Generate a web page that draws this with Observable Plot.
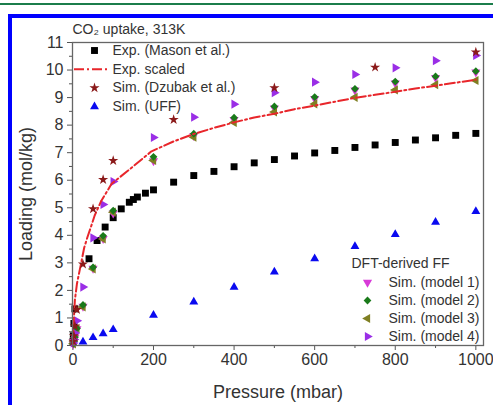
<!DOCTYPE html>
<html><head><meta charset="utf-8">
<script src="https://cdn.jsdelivr.net/npm/d3@7"></script>
<script src="https://cdn.jsdelivr.net/npm/@observablehq/plot@0.6"></script>
<style>
body{margin:0;background:#fff;width:493px;height:405px;overflow:hidden;position:relative;font-family:'Liberation Sans',Arial,sans-serif}
#green{position:absolute;left:0;top:3px;width:493px;height:2px;background:#1b7d4b}
#blue{position:absolute;left:8px;top:14px;width:600px;height:600px;border-left:4px solid #0000ff;border-top:4px solid #0000ff;box-sizing:border-box}
#chart{position:absolute;left:0;top:0}
</style></head><body>
<div id="chart"></div><div id="green"></div><div id="blue"></div>
<script>
// ---- data ----
const pExp = [0.5,1,2.5,5,40,60,80,100,120,140,150,160,180,200,250,300,350,400,450,500,550,600,650,700,750,800,850,900,950,1000];
const loadExp = [0.15,0.35,0.8,1.33,3.15,3.81,4.3,4.64,4.96,5.2,5.3,5.39,5.53,5.65,5.93,6.17,6.32,6.49,6.63,6.75,6.88,6.99,7.08,7.19,7.28,7.37,7.46,7.54,7.63,7.70];
const pScaled = [0,1,2.5,5,10,20,28,36,46,54,70,96,137,195,250,300,350,400,450,500,550,600,650,700,750,800,850,900,950,1000];
const loadScaled = [0,0.45,1.0,1.66,2.24,2.96,3.55,3.93,4.36,4.72,5.24,5.87,6.35,7.05,7.41,7.68,7.9,8.10,8.28,8.41,8.58,8.71,8.85,8.99,9.1,9.21,9.33,9.43,9.54,9.65];
const pDz = [1,2.5,5,10,25,50,75,100,250,500,750,1000];
const loadDz = [0.15,0.35,0.7,1.3,2.95,4.96,6.02,6.71,8.2,9.35,10.1,10.65];
const pUff = [25,50,75,100,200,300,400,500,600,700,800,900,1000];
const loadUff = [0.13,0.29,0.43,0.58,1.1,1.58,2.12,2.67,3.15,3.6,4.03,4.48,4.87];
const pSim = [1,2.5,5,10,25,50,75,100,200,300,400,500,600,700,800,900,1000];
const loadM1 = [0.06,0.14,0.29,0.6,1.42,2.8,3.88,4.8,6.7,7.62,8.2,8.62,8.96,9.27,9.52,9.72,9.92];
const loadM2 = [0.06,0.15,0.3,0.62,1.47,2.84,3.98,4.9,6.85,7.69,8.27,8.68,9.02,9.32,9.58,9.77,9.96];
const loadM3 = [0.06,0.14,0.28,0.6,1.4,2.78,3.87,4.84,6.72,7.56,8.1,8.48,8.77,9.01,9.28,9.47,9.62];
const loadM4 = [0.09,0.22,0.45,0.9,2.12,3.91,5.12,5.95,7.55,8.29,8.76,9.18,9.56,9.84,10.08,10.34,10.53];
const xTicks = [0,200,400,600,800,1000];
const xMinor = [100,300,500,700,900];
const yTicks = [0,1,2,3,4,5,6,7,8,9,10,11];
const yMinor = [0.5,1.5,2.5,3.5,4.5,5.5,6.5,7.5,8.5,9.5,10.5];
const legend1 = ["Exp. (Mason et al.)","Exp. scaled","Sim. (Dzubak et al.)","Sim. (UFF)"];
const legend2Title = "DFT-derived FF";
const legend2 = ["Sim. (model 1)","Sim. (model 2)","Sim. (model 3)","Sim. (model 4)"];

const zip = (xs, ys) => xs.map((x, i) => ({x, y: ys[i]}));

// ---- symbols ----
const tri = (rot) => ({draw(ctx, size){
  const y = -Math.sqrt(size / (Math.sqrt(3) * 3));
  const pts = [[0, 2*y], [-Math.sqrt(3)*y, -y], [Math.sqrt(3)*y, -y]];
  const c = Math.cos(rot), s = Math.sin(rot);
  pts.forEach(([px, py], i) => { const X = px*c - py*s, Y = px*s + py*c; i ? ctx.lineTo(X, Y) : ctx.moveTo(X, Y); });
  ctx.closePath();
}});
const triDown = tri(Math.PI), triLeft = tri(-Math.PI/2), triRight = tri(Math.PI/2);
const legLine = {draw(ctx){ ctx.moveTo(-17, 0); ctx.lineTo(17, 0); }};

const C = {exp:"#000000", scaled:"#e8262b", dz:"#8b1a1a", uff:"#0a0af0", m1:"#d83ad8", m2:"#1a7a1a", m3:"#7f7f22", m4:"#9a2ee6"};
const S = {exp:{symbol:"square", r:3.9}, dz:{symbol:"star", r:3.2}, uff:{symbol:"triangle", r:3.3},
  m1:{symbol:triDown, r:3.4}, m2:{symbol:"diamond2", r:3.5}, m3:{symbol:triLeft, r:3.4}, m4:{symbol:triRight, r:3.4}};

const dash = "10,3,2,3";
const fmt = d => String(d);
const marks = [];
// axes
marks.push(Plot.axisX({ticks: xTicks, tickSize: 5, tickPadding: 3, fontSize: 16, tickFormat: fmt, label: null, stroke: "#555"}));
marks.push(Plot.axisX({ticks: xMinor, tickSize: 3, tickFormat: () => "", label: null, stroke: "#555"}));
marks.push(Plot.axisY({ticks: yTicks, tickSize: 5, tickPadding: 4, fontSize: 16, tickFormat: fmt, label: null, stroke: "#555"}));
marks.push(Plot.axisY({ticks: yMinor, tickSize: 3, tickFormat: () => "", label: null, stroke: "#555"}));
// data
marks.push(Plot.dot(zip(pExp, loadExp), {x:"x", y:"y", ...S.exp, fill: C.exp}));
marks.push(Plot.dot(zip(pUff, loadUff), {x:"x", y:"y", ...S.uff, fill: C.uff}));
marks.push(Plot.dot(zip(pSim, loadM1), {x:"x", y:"y", ...S.m1, fill: C.m1}));
marks.push(Plot.dot(zip(pSim, loadM3), {x:"x", y:"y", ...S.m3, fill: C.m3}));
marks.push(Plot.dot(zip(pSim, loadM2), {x:"x", y:"y", ...S.m2, fill: C.m2}));
marks.push(Plot.dot(zip(pSim, loadM4), {x:"x", y:"y", ...S.m4, fill: C.m4}));
marks.push(Plot.line(zip(pScaled, loadScaled), {x:"x", y:"y", stroke: C.scaled, strokeWidth: 2, strokeDasharray: dash}));
marks.push(Plot.dot(zip(pDz, loadDz), {x:"x", y:"y", ...S.dz, fill: C.dz}));
marks.push(Plot.frame({stroke: "#666", strokeWidth: 1.3}));
// titles
marks.push(Plot.text(["CO\u2082 uptake, 313K"], {frameAnchor:"top-left", text: d => d, textAnchor:"start", lineAnchor:"middle", dy:-13, fontSize:14, fill:"#333"}));
marks.push(Plot.text(["Loading (mol/kg)"], {frameAnchor:"left", text: d => d, rotate:-90, textAnchor:"middle", lineAnchor:"middle", dx:-46, fontSize:18, fill:"#333"}));
marks.push(Plot.text(["Pressure (mbar)"], {frameAnchor:"bottom", text: d => d, textAnchor:"middle", lineAnchor:"middle", dy:47, fontSize:18, fill:"#333"}));
// legend 1
const leg1Keys = ["exp","scaled","dz","uff"];
legend1.forEach((lab, i) => {
  const dy = 8 + i*18.7, k = leg1Keys[i];
  if (k === "scaled") marks.push(Plot.dot([0], {frameAnchor:"top-left", dx:18.5, dy, symbol: legLine, stroke: C.scaled, fill: "none", strokeWidth: 2, strokeDasharray: dash}));
  else marks.push(Plot.dot([0], {frameAnchor:"top-left", dx:22, dy, ...S[k], fill: C[k]}));
  marks.push(Plot.text([lab], {frameAnchor:"top-left", dx:40, dy, text: d => d, textAnchor:"start", lineAnchor:"middle", fontSize:14, fill:"#333"}));
});
// legend 2
marks.push(Plot.text([legend2Title], {frameAnchor:"top-left", dx:279, dy:221, text: d => d, textAnchor:"start", lineAnchor:"middle", fontSize:14, fill:"#333"}));
const leg2Keys = ["m1","m2","m3","m4"];
legend2.forEach((lab, i) => {
  const dy = 240 + i*18, k = leg2Keys[i];
  marks.push(Plot.dot([0], {frameAnchor:"top-left", dx:295, dy, ...S[k], fill: C[k]}));
  marks.push(Plot.text([lab], {frameAnchor:"top-left", dx:316, dy, text: d => d, textAnchor:"start", lineAnchor:"middle", fontSize:14, fill:"#333"}));
});

const chart = Plot.plot({
  width: 493, height: 405,
  marginLeft: 72, marginRight: 10, marginTop: 42, marginBottom: 60,
  x: {domain: [-1, 1019]},
  y: {domain: [0, 11]},
  style: {fontFamily: "'Liberation Sans', Arial, sans-serif", color: "#333", background: "transparent"},
  marks
});
document.getElementById("chart").appendChild(chart);
</script></body></html>
